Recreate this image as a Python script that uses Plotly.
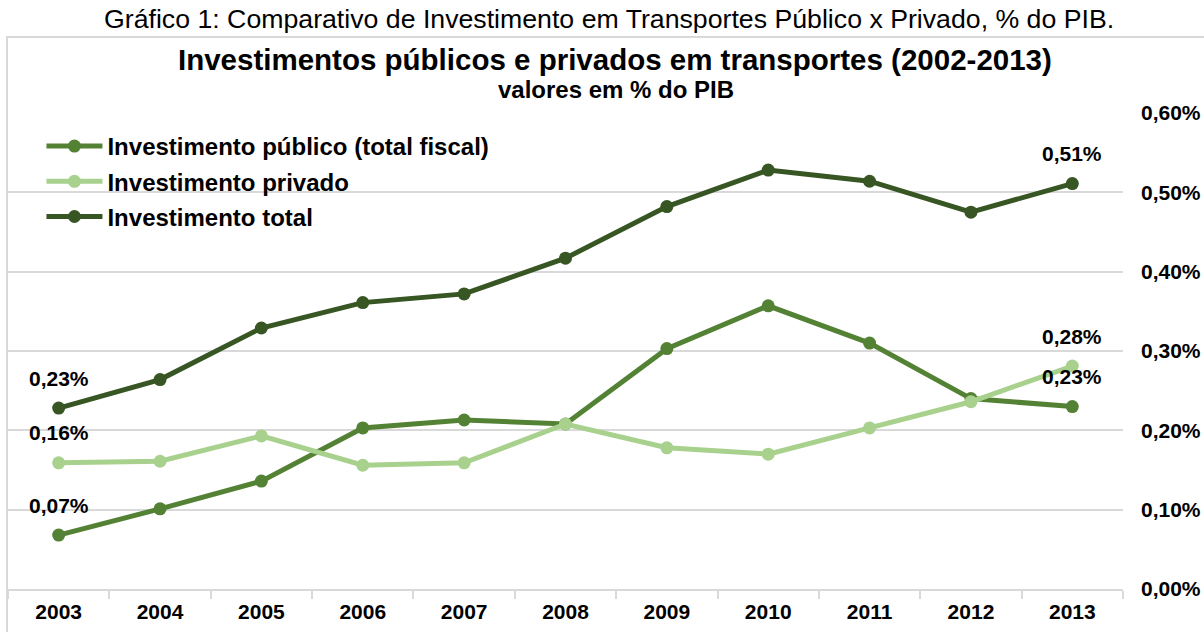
import plotly.graph_objects as go

# Anos e séries (% do PIB)
anos = ["2003", "2004", "2005", "2006", "2007", "2008", "2009", "2010", "2011", "2012", "2013"]
publico = [0.068, 0.101, 0.136, 0.203, 0.213, 0.208, 0.303, 0.357, 0.310, 0.240, 0.230]
privado = [0.159, 0.161, 0.193, 0.156, 0.159, 0.208, 0.178, 0.170, 0.203, 0.236, 0.281]
total = [0.228, 0.264, 0.329, 0.361, 0.372, 0.417, 0.482, 0.528, 0.514, 0.475, 0.511]

nomes = ["Investimento público (total fiscal)", "Investimento privado", "Investimento total"]
cores = ["#548235", "#A9D18E", "#375623"]
y_ticks = [0.0, 0.1, 0.2, 0.3, 0.4, 0.5, 0.6]
y_tick_text = ["0,00%", "0,10%", "0,20%", "0,30%", "0,40%", "0,50%", "0,60%"]

FONTE = "Liberation Sans, Arial, sans-serif"

# Geometria da área de plotagem em pixels
W, H = 1204, 632
PL, PR, PT, PB = 8, 1123, 113, 589


def py(pix):
    """Converte uma posição vertical em pixels para coordenada do papel."""
    return (PB - pix) / (PB - PT)


def px(pix):
    """Converte uma posição horizontal em pixels para coordenada do papel."""
    return (pix - PL) / (PR - PL)


def pct(v):
    return f"{v:.2f}".replace(".", ",") + "%"


fig = go.Figure()
for i, (nome, serie, cor) in enumerate(zip(nomes, [publico, privado, total], cores)):
    fig.add_trace(go.Scatter(
        x=anos, y=serie, name=nome, mode="lines+markers",
        line=dict(color=cor, width=5),
        marker=dict(color=cor, size=13),
        legendgroup=f"g{i}",
    ))

# Rótulos de valor no primeiro e no último ano (x como índice da categoria)
anotacoes = []
for serie in [publico, privado, total]:
    for idx in (0, len(anos) - 1):
        anotacoes.append(dict(
            x=idx, y=serie[idx], xref="x", yref="y",
            text=pct(serie[idx]), showarrow=False, yshift=30,
            font=dict(family=FONTE, size=21, color="#000000", weight="bold"),
        ))

# Legenda superior, título e subtítulo
anotacoes += [
    dict(x=px(609), y=py(19), xref="paper", yref="paper", yanchor="middle",
         text="Gráfico 1: Comparativo de Investimento em Transportes Público x Privado, % do PIB.",
         showarrow=False, font=dict(family=FONTE, size=26.7, color="#000000")),
    dict(x=px(615), y=py(60), xref="paper", yref="paper", yanchor="middle",
         text="Investimentos públicos e privados em transportes (2002-2013)",
         showarrow=False, font=dict(family=FONTE, size=29.5, color="#000000", weight="bold")),
    dict(x=px(616), y=py(90), xref="paper", yref="paper", yanchor="middle",
         text="valores em % do PIB",
         showarrow=False, font=dict(family=FONTE, size=24, color="#000000", weight="bold")),
]

fig.update_layout(
    width=W, height=H,
    margin=dict(l=PL, r=W - PR, t=PT, b=H - PB),
    paper_bgcolor="white", plot_bgcolor="white",
    showlegend=True,
    legend=dict(
        x=0.03, y=py(124), xanchor="left", yanchor="top",
        bgcolor="rgba(0,0,0,0)",
        font=dict(family=FONTE, size=24, color="#000000", weight="bold"),
        tracegroupgap=1,
        itemwidth=56,
    ),
    xaxis=dict(
        type="category", showgrid=False, range=[-0.5, len(anos) - 0.5],
        automargin=False,
        showline=True, linecolor="#D9D9D9", linewidth=2,
        ticks="outside", tickson="boundaries", ticklen=8, tickcolor="#D9D9D9", tickwidth=2,
        tickangle=0, ticklabelstandoff=3,
        tickfont=dict(family=FONTE, size=21, color="#000000", weight="bold"),
        fixedrange=True,
    ),
    yaxis=dict(
        side="right", range=[0, 0.6], automargin=False,
        tickvals=y_ticks, ticktext=y_tick_text,
        showgrid=True, gridcolor="#D9D9D9", gridwidth=2,
        zeroline=False, showline=False, ticks="",
        ticklabelstandoff=17,
        tickfont=dict(family=FONTE, size=21, color="#000000", weight="bold"),
    ),
    annotations=anotacoes,
    shapes=[dict(
        type="rect", xref="paper", yref="paper",
        x0=-1 / (PR - PL), x1=1.3, y0=-0.3, y1=py(37),
        line=dict(color="#D9D9D9", width=2), fillcolor="rgba(0,0,0,0)",
        layer="below",
    )],
)

fig.write_html("out.html")
